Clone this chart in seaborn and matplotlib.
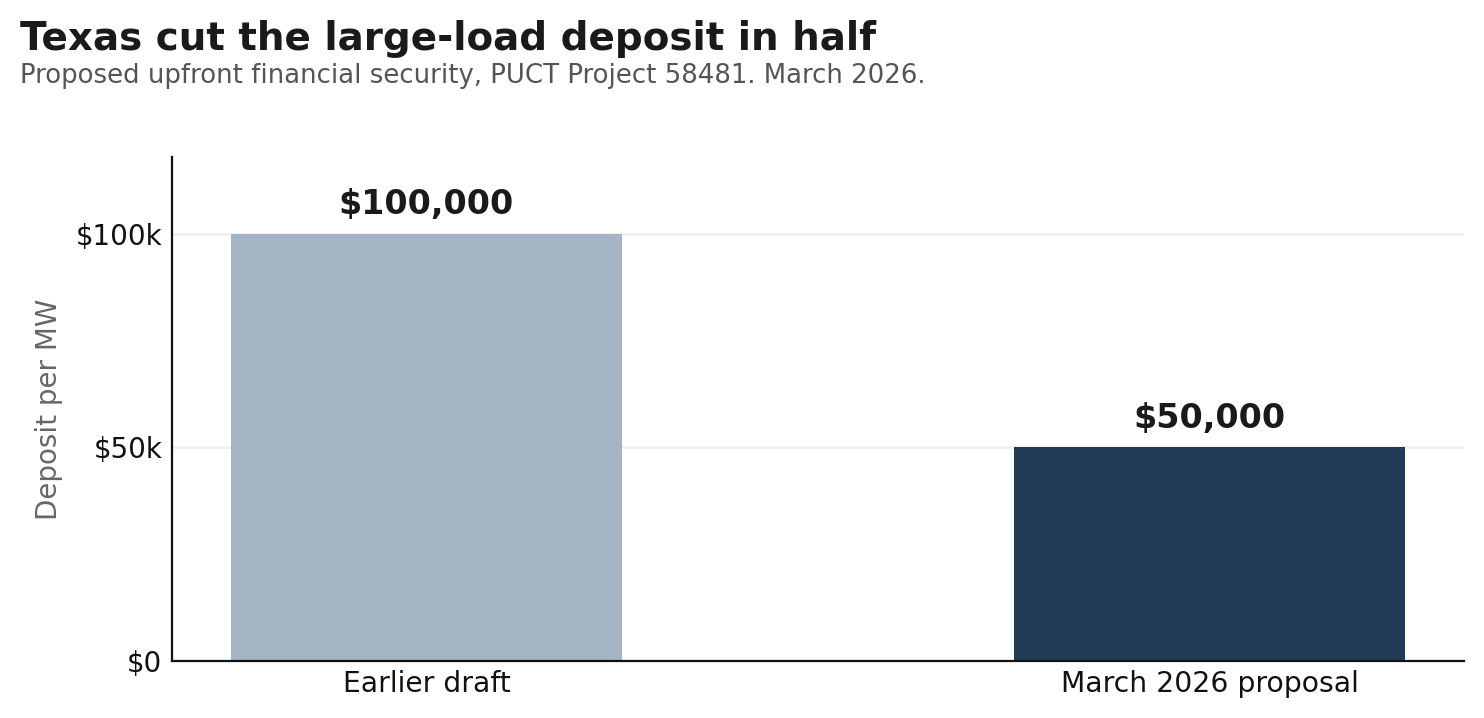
import matplotlib
matplotlib.use("Agg")
import matplotlib.pyplot as plt
import seaborn as sns
import pandas as pd

categories = ["Earlier draft", "March 2026 proposal"]
deposits = [100000, 50000]
bar_labels = ["$100,000", "$50,000"]
colors = ["#A5B4C5", "#213A56"]
yticks = [0, 50000, 100000]
ytick_labels = ["$0", "$50k", "$100k"]

sns.set_theme(style="white")
plt.rcParams['font.family'] = ['DejaVu Sans']

W, H, DPI = 1484, 718, 200
fig = plt.figure(figsize=(W / DPI, H / DPI), dpi=DPI)
ax = fig.add_axes([172 / W, 1 - 661 / H, (1464 - 172) / W, (661 - 157) / H])

df = pd.DataFrame({"cat": categories, "val": deposits})
sns.barplot(data=df, x="cat", y="val", hue="cat", palette=colors, width=0.5,
            legend=False, ax=ax, saturation=1, linewidth=0, edgecolor="none",
            zorder=2)

ax.set_xlim(-0.325, 1.325)
ax.set_ylim(0, 118000)
ax.set_yticks(yticks)
ax.set_yticklabels(ytick_labels)
ax.yaxis.grid(True, color="#EEF0F4", linewidth=1.0, zorder=0)
ax.set_axisbelow(True)
ax.tick_params(axis="both", length=0, labelsize=10, colors="#111111")
ax.tick_params(axis="y", pad=3.5)
ax.tick_params(axis="x", labelsize=10.2, pad=3.3)
ax.set_xlabel("")
ax.set_ylabel("Deposit per MW", fontsize=10, color="#666666", labelpad=4.4)
for s in ["top", "right"]:
    ax.spines[s].set_visible(False)
for s in ["left", "bottom"]:
    ax.spines[s].set_color("#111111")
    ax.spines[s].set_linewidth(0.8)

for i, (v, lab) in enumerate(zip(deposits, bar_labels)):
    ax.annotate(lab, (i, v), xytext=(0, 4.5), textcoords="offset points",
                ha="center", va="bottom", fontsize=12, fontweight="bold",
                color="#1a1a1a")

fig.text(20 / W, 1 - 50 / H, "Texas cut the large-load deposit in half",
         fontsize=14, fontweight="bold", color="#1a1a1a", ha="left", va="baseline")
fig.text(20 / W, 1 - 83 / H,
         "Proposed upfront financial security, PUCT Project 58481. March 2026.",
         fontsize=9.35, color="#555555", ha="left", va="baseline")

fig.savefig("out.png", dpi=DPI, facecolor="white")
